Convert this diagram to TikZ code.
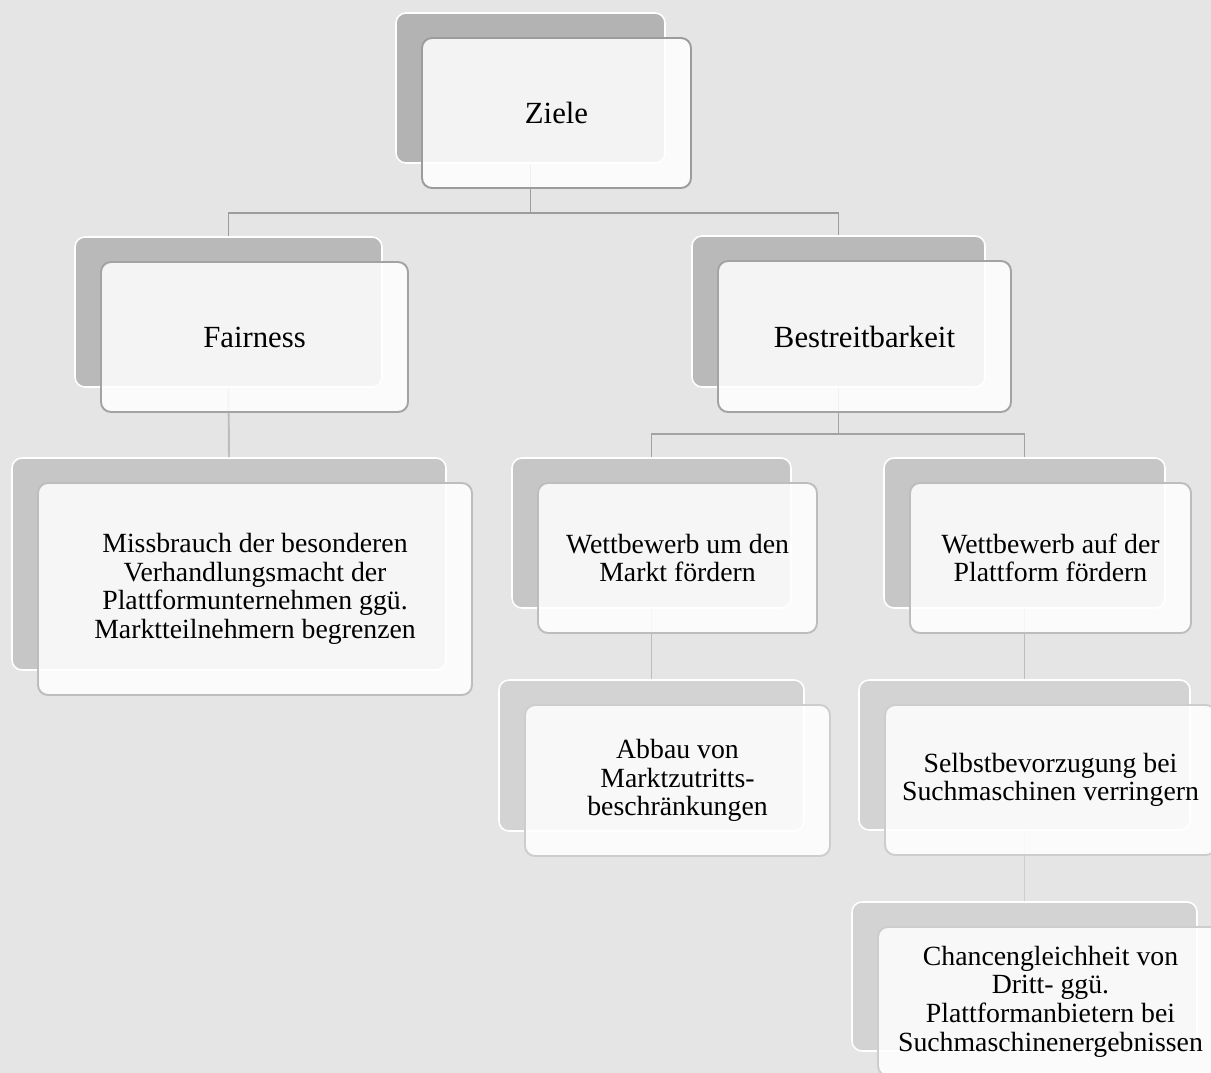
\documentclass[tikz,border=0pt]{standalone}
\usepackage{fontspec}
\setmainfont{Liberation Serif}
\usepackage{xcolor}
\usepackage{tikz}
\usetikzlibrary{positioning, calc}

\definecolor{canvasgray}{HTML}{E5E5E5}
\definecolor{backone}{HTML}{B3B3B3}
\definecolor{backtwo}{HTML}{B9B9B9}
\definecolor{backthree}{HTML}{C6C6C6}
\definecolor{backfour}{HTML}{D3D3D3}
\definecolor{rimone}{HTML}{9C9C9C}
\definecolor{rimtwo}{HTML}{A3A3A3}
\definecolor{rimthree}{HTML}{BDBDBD}
\definecolor{rimfour}{HTML}{CDCDCD}

\newcommand{\biglabel}{\fontsize{17.5}{21}\selectfont}
\newcommand{\smalllabel}{\fontsize{15.8}{16.3}\selectfont}

\tikzset{
    shadowbox/.style={draw=white, line width=0.9pt, fill=#1, rounded corners=0.2cm, inner sep=0pt},
    textbox/.style={draw=#1, line width=1.1pt, fill=white, fill opacity=0.85, text opacity=1,
        rounded corners=0.2cm, inner sep=0pt, align=center},
    link/.style={draw=#1, line width=1.1pt},
}

\begin{document}
\begin{tikzpicture}
        \useasboundingbox (0,0) rectangle (24.22,-21.46);
        \clip (0,0) rectangle (24.22,-21.46);
        \fill[canvasgray] (0,0) rectangle (24.22,-21.46);
        % back boxes
        \node[shadowbox=backone, minimum width=5.38cm, minimum height=3cm] (zb) at (10.61,-1.76) {};
        \node[shadowbox=backtwo, minimum width=6.14cm, minimum height=3cm] (fb) at (4.57,-6.24) {};
        \node[shadowbox=backtwo, minimum width=5.86cm, minimum height=3.02cm] (bb) at (16.77,-6.23) {};
        \node[shadowbox=backthree, minimum width=8.68cm, minimum height=4.24cm] (mb) at (4.58,-11.28) {};
        \node[shadowbox=backthree, minimum width=5.58cm, minimum height=3cm] (wmb) at (13.03,-10.66) {};
        \node[shadowbox=backthree, minimum width=5.62cm, minimum height=3cm] (wpb) at (20.49,-10.66) {};
        \node[shadowbox=backfour, minimum width=6.1cm, minimum height=3.02cm] (ab) at (13.03,-15.11) {};
        \node[shadowbox=backfour, minimum width=6.62cm, minimum height=3cm] (sb) at (20.49,-15.10) {};
        \node[shadowbox=backfour, minimum width=6.9cm, minimum height=2.98cm] (cb) at (20.49,-19.53) {};
        % connectors
        \coordinate (j1) at ([yshift=-0.98cm]zb.south);
        \coordinate (j2) at ([yshift=-0.92cm]bb.south);
        \draw[link=rimone] (zb.south) -- (j1) -| (fb.north);
        \draw[link=rimone] (j1) -| (bb.north);
        \draw[link=rimtwo] (bb.south) -- (j2) -| (wmb.north);
        \draw[link=rimtwo] (j2) -| (wpb.north);
        \draw[link=rimthree] (fb.south) -- (mb.north);
        \draw[link=rimthree] (wmb.south) -- (ab.north);
        \draw[link=rimthree] (wpb.south) -- (sb.north);
        \draw[link=rimfour] (sb.south) -- (cb.north);
        % front boxes
        \node[textbox=rimone, minimum width=5.38cm, minimum height=3cm, font=\biglabel] (zf) at ([shift={(0.52,-0.5)}]zb) {Ziele};
        \node[textbox=rimtwo, minimum width=6.14cm, minimum height=3cm, font=\biglabel] (ff) at ([shift={(0.52,-0.5)}]fb) {Fairness};
        \node[textbox=rimtwo, minimum width=5.86cm, minimum height=3.02cm, font=\biglabel] (bf) at ([shift={(0.52,-0.5)}]bb) {Bestreitbarkeit};
        \node[textbox=rimthree, minimum width=8.68cm, minimum height=4.24cm, font=\smalllabel] (mf) at ([shift={(0.52,-0.5)}]mb)
            {Missbrauch der besonderen\\Verhandlungsmacht der\\Plattformunternehmen ggü.\\Marktteilnehmern begrenzen};
        \node[textbox=rimthree, minimum width=5.58cm, minimum height=3cm, font=\smalllabel] (wmf) at ([shift={(0.52,-0.5)}]wmb)
            {Wettbewerb um den\\Markt fördern};
        \node[textbox=rimthree, minimum width=5.62cm, minimum height=3cm, font=\smalllabel] (wpf) at ([shift={(0.52,-0.5)}]wpb)
            {Wettbewerb auf der\\Plattform fördern};
        \node[textbox=rimfour, minimum width=6.1cm, minimum height=3.02cm, font=\smalllabel] (af) at ([shift={(0.52,-0.5)}]ab)
            {Abbau von\\Marktzutritts-\\beschränkungen};
        \node[textbox=rimfour, minimum width=6.62cm, minimum height=3cm, font=\smalllabel] (sf) at ([shift={(0.52,-0.5)}]sb)
            {Selbstbevorzugung bei\\Suchmaschinen verringern};
        \node[textbox=rimfour, minimum width=6.9cm, minimum height=2.98cm, font=\smalllabel] (cf) at ([shift={(0.52,-0.5)}]cb)
            {Chancengleichheit von\\Dritt- ggü.\\Plattformanbietern bei\\Suchmaschinenergebnissen};
    \end{tikzpicture}
\end{document}
